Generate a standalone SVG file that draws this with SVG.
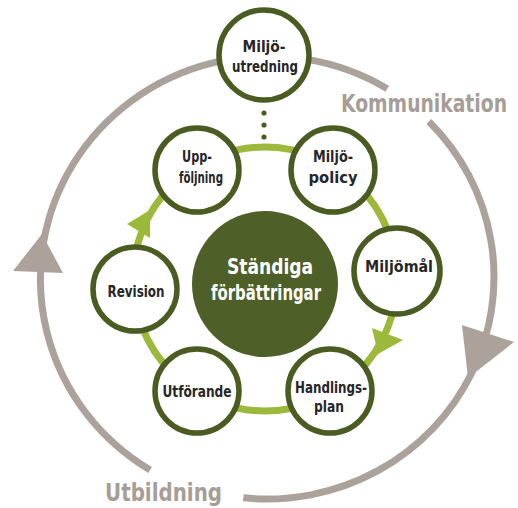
<svg xmlns="http://www.w3.org/2000/svg" width="518" height="508" viewBox="0 0 518 508">
<defs>
<style>
.grey{fill:none;stroke:#aba39b;stroke-width:7}
.greyhead{fill:#aba39b}
.ring{fill:none;stroke:#9cb93c;stroke-width:7}
.ringhead{fill:#9cb93c}
.dot{fill:#4b5c23}
.node{fill:#ffffff;stroke:#4b5c23;stroke-width:5.5}
.core{fill:#4e5f27}
.t{font-family:"DejaVu Sans Condensed","DejaVu Sans",sans-serif;font-weight:bold;font-size:16px;fill:#262626;text-anchor:middle}
.tc{font-family:"DejaVu Sans Condensed","DejaVu Sans",sans-serif;font-weight:bold;font-size:22px;fill:#ffffff;text-anchor:middle}
.big{font-family:"DejaVu Sans Condensed","DejaVu Sans",sans-serif;font-weight:bold;font-size:20px;fill:#a69e96}
</style>
</defs>
<rect width="518" height="508" fill="#ffffff"/>
<g id="connectors">
<path class="grey" d="M150.1 469.9 A227 222 0 1 1 387.3 88.7"/>
<path class="grey" d="M428.9 121.4 A227 222 0 0 1 243.3 497.8"/>
<polygon class="greyhead" points="42,234 13,271 63,273"/>
<polygon class="greyhead" points="462,325 514,342 468,378"/>
<circle class="ring" cx="265" cy="279" r="132"/>
<polygon class="ringhead" points="127,224 150,210 150,238"/>
<polygon class="ringhead" points="372,328 403,340 378,354"/>
<circle class="dot" cx="264" cy="113" r="2.6"/>
<circle class="dot" cx="264" cy="125" r="2.6"/>
<circle class="dot" cx="264" cy="137" r="2.6"/>
</g>
<g id="label-kommunikation"><text class="big" transform="translate(341,112) scale(1,1.22)" x="0" y="0" textLength="166" lengthAdjust="spacingAndGlyphs">Kommunikation</text></g>
<g id="label-utbildning"><text class="big" transform="translate(105,501) scale(1,1.22)" x="0" y="0" textLength="117" lengthAdjust="spacingAndGlyphs">Utbildning</text></g>
<g id="node-miljoutredning">
<circle class="node" cx="264" cy="55" r="45"/>
<text class="t" x="264" y="52" textLength="43" lengthAdjust="spacingAndGlyphs">Miljö-</text>
<text class="t" x="265" y="72" textLength="66" lengthAdjust="spacingAndGlyphs">utredning</text>
</g>
<g id="node-uppfoljning">
<circle class="node" cx="197" cy="170" r="42"/>
<text class="t" x="197" y="162" textLength="30" lengthAdjust="spacingAndGlyphs">Upp-</text>
<text class="t" x="201" y="183" textLength="44" lengthAdjust="spacingAndGlyphs">följning</text>
</g>
<g id="node-miljopolicy">
<circle class="node" cx="333" cy="170" r="42"/>
<text class="t" x="333" y="162" textLength="40" lengthAdjust="spacingAndGlyphs">Miljö-</text>
<text class="t" x="333" y="183" textLength="49" lengthAdjust="spacingAndGlyphs">policy</text>
</g>
<g id="node-miljomal">
<circle class="node" cx="397" cy="271" r="43"/>
<text class="t" x="399" y="272" textLength="68" lengthAdjust="spacingAndGlyphs">Miljömål</text>
</g>
<g id="node-handlingsplan">
<circle class="node" cx="330" cy="391" r="42"/>
<text class="t" x="331" y="393" textLength="72" lengthAdjust="spacingAndGlyphs">Handlings-</text>
<text class="t" x="329" y="412" textLength="30" lengthAdjust="spacingAndGlyphs">plan</text>
</g>
<g id="node-utforande">
<circle class="node" cx="197" cy="391" r="42"/>
<text class="t" x="197" y="397" textLength="69" lengthAdjust="spacingAndGlyphs">Utförande</text>
</g>
<g id="node-revision">
<circle class="node" cx="135" cy="289" r="42"/>
<text class="t" x="136" y="297" textLength="57" lengthAdjust="spacingAndGlyphs">Revision</text>
</g>
<g id="node-standiga">
<circle class="core" cx="265" cy="284" r="73"/>
<text class="tc" x="270" y="274" textLength="86" lengthAdjust="spacingAndGlyphs">Ständiga</text>
<text class="tc" x="266" y="300" textLength="110" lengthAdjust="spacingAndGlyphs">förbättringar</text>
</g>
</svg>
